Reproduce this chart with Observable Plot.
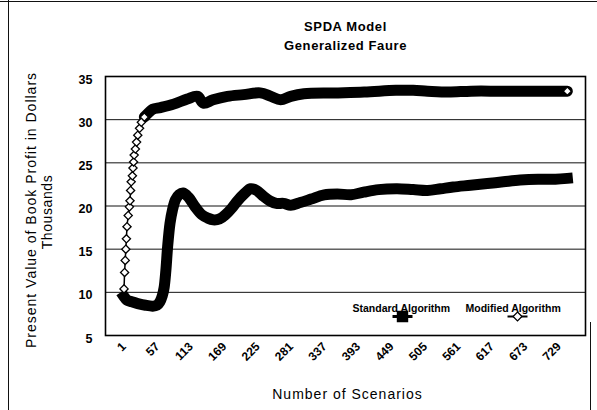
<!DOCTYPE html>
<html><head><meta charset="utf-8">
<script src="https://cdn.jsdelivr.net/npm/d3@7"></script>
<script src="https://cdn.jsdelivr.net/npm/@observablehq/plot@0.6"></script>
<style>
html,body{margin:0;padding:0;background:#fff;}
#wrap{position:relative;width:597px;height:410px;overflow:hidden;background:#fff;}
#wrap svg{position:absolute;left:0;top:0;}
.bl{position:absolute;background:#111;}
</style></head><body>
<div id="wrap">
  <div class="bl" style="left:0;top:1px;width:597px;height:1px;"></div>
  <div class="bl" style="left:8px;top:0;width:1px;height:410px;"></div>
  <div class="bl" style="left:590px;top:322px;width:1px;height:88px;"></div>
</div>
<script>
const title = "SPDA Model";
const subtitle = "Generalized Faure";
const xTitle = "Number of Scenarios";
const yTitle = "Present Value of Book Profit in Dollars";
const yTitle2 = "Thousands";
const seriesNames = ["Standard Algorithm", "Modified Algorithm"];
const xTicks = [1,57,113,169,225,281,337,393,449,505,561,617,673,729];
const yTicks = [5,10,15,20,25,30,35];
const gridValues = [10,15,20,25,30];

const stdScen = [1,6,14,24,37,49,56,61,65,68,71,74,78,82,87,93,100,109,120,131,141,150,161,171,182,191,202,213,223,233,245,256,268,280,296,314,336,358,381,402,427,458,485,509,531,552,581,609,636,664,694,723,743];
const stdVal = [9.5,9.1,8.9,8.7,8.5,8.4,8.5,8.9,9.6,10.5,12.5,15.3,18.0,19.5,20.7,21.3,21.5,21.0,19.9,19.0,18.6,18.4,18.5,19.0,19.8,20.6,21.4,22.0,21.8,21.2,20.6,20.3,20.3,20.1,20.4,20.8,21.3,21.4,21.3,21.6,21.9,22.0,21.9,21.8,22.0,22.2,22.4,22.6,22.8,23.0,23.1,23.1,23.2];

const modScen = [1,2,3,4,5,6,8,10,11,12,13,15,16,17,18,20,22,24,27,30,35,42,49,62,84,107,124,134,150,174,201,229,247,263,280,302,352,403,456,485,509,544,582,631,680,718,743];
const modVal = [10.4,12.3,13.7,15.0,16.2,17.6,18.9,19.9,20.6,21.8,22.8,23.5,24.4,25.1,25.9,26.6,27.4,28.2,29.0,29.7,30.3,30.8,31.2,31.4,31.8,32.4,32.7,31.9,32.3,32.7,32.9,33.1,32.7,32.3,32.7,33.0,33.1,33.2,33.4,33.4,33.3,33.2,33.3,33.3,33.3,33.3,33.3];

const std = stdScen.map((s, i) => ({s, v: stdVal[i]}));
const mod = modScen.map((s, i) => ({s, v: modVal[i]}));
const modDiamonds = mod.filter((d, i) => d.s <= 35 || i === mod.length - 1);
const modBand = mod.filter(d => d.s >= 35);

const FONT = "Liberation Sans, Arial, Helvetica, sans-serif";
const lineSym = {draw(ctx) { ctx.moveTo(-10, 0); ctx.lineTo(10, 0); }};

const chart = Plot.plot({
  width: 597,
  height: 410,
  marginLeft: 105,
  marginRight: 12,
  marginTop: 76,
  marginBottom: 75,
  style: {fontFamily: FONT, background: "transparent", color: "#000"},
  x: {type: "linear", domain: [-30, 773.4]},
  y: {domain: [5, 35]},
  marks: [
    Plot.ruleY(gridValues, {stroke: "#111", strokeWidth: 1}),
    Plot.frame({stroke: "#000", strokeWidth: 1.6}),
    Plot.axisY({ticks: yTicks, tickSize: 0, tickPadding: 13, fontWeight: "bold", fontSize: 12.5, dy: 3, label: null}),
    Plot.axisX({ticks: xTicks, tickFormat: d => String(d), tickRotate: -45, tickSize: 0, tickPadding: 9, fontWeight: "bold", fontSize: 12, label: null}),
    // Standard algorithm: thick band of overlapping square markers
    Plot.line(std, {x: "s", y: "v", stroke: "#000", strokeWidth: 11, strokeLinejoin: "round", strokeLinecap: "square", curve: "catmull-rom"}),
    // Modified algorithm
    Plot.line(mod, {x: "s", y: "v", stroke: "#000", strokeWidth: 1.5, curve: "catmull-rom"}),
    Plot.line(modBand, {x: "s", y: "v", stroke: "#000", strokeWidth: 11, strokeLinejoin: "round", strokeLinecap: "round", curve: "catmull-rom"}),
    Plot.dot(modDiamonds, {x: "s", y: "v", symbol: "diamond2", r: 3.7, fill: "#fff", stroke: "#000", strokeWidth: 1.3}),
    // titles
    Plot.text([title], {text: d => d, frameAnchor: "top", dy: -55, fontSize: 13, fontWeight: "bold"}),
    Plot.text([subtitle], {text: d => d, frameAnchor: "top", dy: -36, fontSize: 13, fontWeight: "bold"}),
    Plot.text([xTitle], {text: d => d, frameAnchor: "bottom", dx: 2, dy: 63, fontSize: 14}),
    Plot.text([yTitle], {text: d => d, frameAnchor: "left", textAnchor: "middle", dx: -74, dy: 4, rotate: -90, fontSize: 14}),
    Plot.text([yTitle2], {text: d => d, frameAnchor: "left", textAnchor: "middle", dx: -58, dy: 6, rotate: -90, fontSize: 14}),
    // legend
    Plot.text([seriesNames[0]], {text: d => d, frameAnchor: "top-left", dx: 352 - 105, dy: 304 - 76, textAnchor: "start", fontSize: 10.5, fontWeight: "bold"}),
    Plot.text([seriesNames[1]], {text: d => d, frameAnchor: "top-left", dx: 465 - 105, dy: 304 - 76, textAnchor: "start", fontSize: 10.5, fontWeight: "bold"}),
    Plot.dot([seriesNames[0]], {frameAnchor: "top-left", dx: 402 - 105, dy: 316 - 76, symbol: lineSym, fill: "none", stroke: "#000", strokeWidth: 3, r: 4}),
    Plot.dot([seriesNames[0]], {frameAnchor: "top-left", dx: 402 - 105, dy: 316 - 76, symbol: "square", r: 5.6, fill: "#000", stroke: "#000"}),
    Plot.dot([seriesNames[1]], {frameAnchor: "top-left", dx: 517 - 105, dy: 316 - 76, symbol: lineSym, fill: "none", stroke: "#000", strokeWidth: 2, r: 4}),
    Plot.dot([seriesNames[1]], {frameAnchor: "top-left", dx: 517 - 105, dy: 316 - 76, symbol: "diamond2", r: 4, fill: "#fff", stroke: "#000", strokeWidth: 1.3})
  ]
});

d3.select(chart).selectAll("text").each(function() {
  const t = this.textContent;
  if (t === xTitle || t === yTitle) d3.select(this).style("letter-spacing", "1px");
  if (t === yTitle2) d3.select(this).style("letter-spacing", "0.6px");
  if (t === title || t === subtitle) d3.select(this).style("letter-spacing", "0.6px");
});

document.getElementById("wrap").appendChild(chart);
</script>
</body></html>
